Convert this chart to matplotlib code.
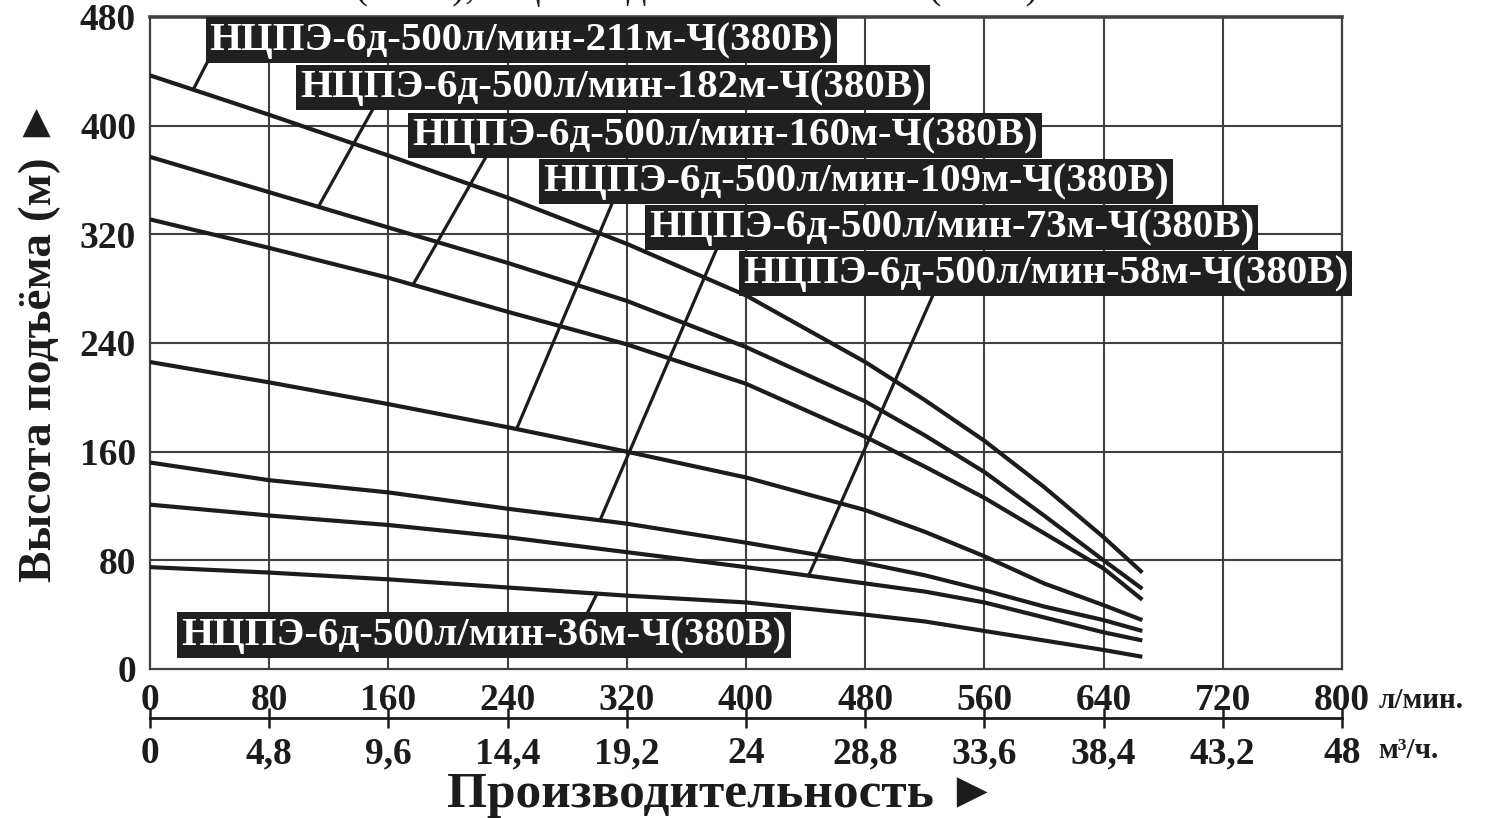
import matplotlib
matplotlib.use("Agg")
import matplotlib.pyplot as plt
import numpy as np

# flow, l/min and head, m
q = [0, 80, 160, 240, 320, 400, 480, 520, 560, 600, 640, 666]
h211 = [437, 408, 378, 347, 313, 275, 226, 198, 168, 134, 97, 71]
h182 = [377, 351, 325, 299, 271, 237, 197, 172, 145, 113, 80, 59]
h160 = [331, 310, 288, 263, 239, 210, 171, 149, 126, 100, 74, 51]
h109 = [226, 211, 195, 178, 160, 141, 117, 101, 83, 63, 47, 36]
h73 = [152, 139, 130, 118, 107, 93, 78, 69, 58, 46, 36, 28]
h58 = [121, 113, 106, 97, 86, 75, 63, 57, 49, 38, 27, 21]
h36 = [75, 71, 66, 60, 54, 49, 40, 35, 28, 21, 14, 9]

names = ["НЦПЭ-6д-500л/мин-211м-Ч(380В)",
         "НЦПЭ-6д-500л/мин-182м-Ч(380В)",
         "НЦПЭ-6д-500л/мин-160м-Ч(380В)",
         "НЦПЭ-6д-500л/мин-109м-Ч(380В)",
         "НЦПЭ-6д-500л/мин-73м-Ч(380В)",
         "НЦПЭ-6д-500л/мин-58м-Ч(380В)",
         "НЦПЭ-6д-500л/мин-36м-Ч(380В)"]
curves = [h211, h182, h160, h109, h73, h58, h36]

x_ticks = [0, 80, 160, 240, 320, 400, 480, 560, 640, 720, 800]
m3_labels = ["0", "4,8", "9,6", "14,4", "19,2", "24", "28,8", "33,6", "38,4", "43,2", "48"]
y_ticks = [0, 80, 160, 240, 320, 400, 480]

# label box (left x, centre y) and leader line (start x, start y, end x on curve)
box_pos = [(40, 463), (101, 428), (176, 393), (264, 359), (335, 325), (398, 291), (21, 25)]
leaders = [(40, 450, 29), (150, 413, 113), (226, 378, 176.5), (311, 345, 246),
           (381, 311, 302), (527, 279, 442), (293, 40, 300)]

serif = ["Liberation Serif", "DejaVu Serif"]
ink = "#1c1c1c"
grid = "#404040"

fig = plt.figure(figsize=(14.96, 8.18), dpi=100)
ax = fig.add_axes([150 / 1496, 149 / 818, 1192 / 1496, 652 / 818])
ax.set_xlim(0, 800)
ax.set_ylim(0, 480)

for v in x_ticks[1:-1]:
    ax.axvline(v, color=grid, lw=1.5, zorder=1)
for v in y_ticks[1:-1]:
    ax.axhline(v, color=grid, lw=1.5, zorder=1)
for s in ax.spines.values():
    s.set_color(grid)
    s.set_linewidth(1.6)
ax.spines["top"].set_linewidth(2.6)

for h in curves:
    ax.plot(q, h, color=ink, lw=3.0, solid_capstyle="butt", solid_joinstyle="round", zorder=3)

for (x0, y0, x1), h in zip(leaders, curves):
    y1 = np.interp(x1, q, h)
    ax.plot([x0, x1], [y0, y1], color=ink, lw=2.3, zorder=3)

for name, (bx, by) in zip(names, box_pos):
    ax.text(bx, by, name, family=serif, fontweight="bold", fontsize=29.5, color="white",
            ha="left", va="center", zorder=5,
            bbox=dict(boxstyle="square,pad=0.1", fc="#202020", ec="none"))

ax.set_xticks(x_ticks)
ax.set_yticks(y_ticks)
ax.set_xticklabels([str(v) for v in x_ticks])
ax.set_yticklabels([str(v) for v in y_ticks])
ax.tick_params(length=0, labelsize=27, labelcolor=ink)
ax.tick_params(axis="x", pad=10)
ax.tick_params(axis="y", pad=10)
for lab in ax.get_xticklabels() + ax.get_yticklabels():
    lab.set_family(serif)
    lab.set_fontweight("bold")

# second flow scale, m3/h
ax2 = fig.add_axes([150 / 1496, 100 / 818, 1192 / 1496, 1e-4])
ax2.set_xlim(0, 48)
ax2.set_yticks([])
for k in ["top", "left", "right"]:
    ax2.spines[k].set_visible(False)
ax2.spines["bottom"].set_color(ink)
ax2.spines["bottom"].set_linewidth(2.0)
ax2.set_xticks([i * 4.8 for i in range(11)])
ax2.set_xticklabels(m3_labels)
ax2.tick_params(axis="x", direction="inout", length=14, width=1.8, color=ink,
                labelsize=27, labelcolor=ink, pad=6)
for lab in ax2.get_xticklabels():
    lab.set_family(serif)
    lab.set_fontweight("bold")

fig.text(1379 / 1496, 1 - 700 / 818, "л/мин.", family=serif, fontweight="bold",
         fontsize=21, color=ink, ha="left", va="center")
fig.text(1378 / 1496, 1 - 750 / 818, "м³/ч.", family=serif, fontweight="bold",
         fontsize=21, color=ink, ha="left", va="center")

fig.text(722 / 1496, 1 - 795 / 818, "Производительность ►",
         family=["Liberation Serif", "DejaVu Sans"], fontweight="bold",
         fontsize=37, color=ink, ha="center", va="center")
fig.text(40 / 1496, 1 - 340 / 818, "Высота подъёма (м) ►",
         family=["Liberation Serif", "DejaVu Sans"], fontweight="bold",
         fontsize=34, color=ink, ha="center", va="center", rotation=90)

# caption cut off by the top edge of the picture
fig.text(355 / 1496, 1 + 2 / 818, "(380В), НЦПЭ-6д-500л/мин-36м-Ч(380В).",
         family=serif, fontsize=28, color=ink, ha="left", va="baseline")

fig.savefig("out.png", dpi=100, facecolor="white")
